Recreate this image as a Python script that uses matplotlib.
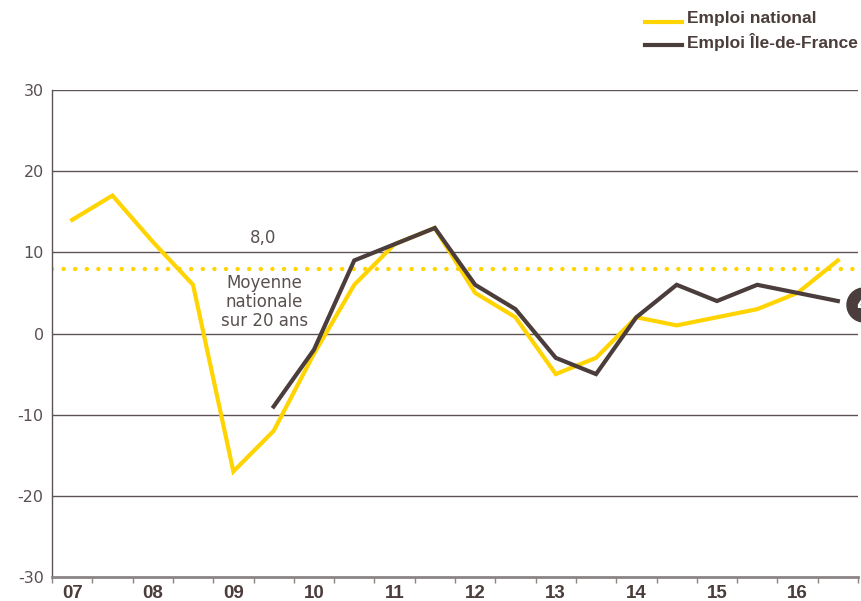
import matplotlib.pyplot as plt
from matplotlib.lines import Line2D
from matplotlib.patches import Ellipse

# values, one point per half-year, 2007 S1 .. 2016 S2
emploi_national = [14, 17, 11.3, 6, -17, -12, -2.5, 6, 11, 13,
                   5, 2, -5, -3, 2, 1, 2, 3, 5, 9]
emploi_idf = [None, None, None, None, None, -9, -2, 9, 11, 13,
              6, 3, -3, -5, 2, 6, 4, 6, 5, 4]
year_labels = ['07', '08', '09', '10', '11', '12', '13', '14', '15', '16']
moyenne = 8.0

yellow = '#FFD400'
dark = '#4A3D3B'
grey_txt = '#5A5050'

W, H = 861, 601
fig = plt.figure(figsize=(W / 100, H / 100), dpi=100)
ax = fig.add_axes([52 / W, 1 - 577 / H, (858 - 52) / W, (577 - 90) / H])

x = [i + 0.5 for i in range(len(emploi_national))]
xi = [x[i] for i, v in enumerate(emploi_idf) if v is not None]
yi = [v for v in emploi_idf if v is not None]

for yv in range(-20, 31, 10):
    ax.axhline(yv, color='#5E5353', lw=1, zorder=1)
ax.axhline(moyenne, color=yellow, lw=3.2, linestyle=(0, (0.01, 2.6)),
           dash_capstyle='round', zorder=2)

ax.plot(x, emploi_national, color=yellow, lw=3, solid_joinstyle='miter', zorder=3)
ax.plot(xi, yi, color=dark, lw=3, solid_joinstyle='miter', zorder=4)

ax.set_xlim(0, 20)
ax.set_ylim(-30, 30)
ax.set_yticks(range(-30, 31, 10))
ax.set_yticklabels([str(v) for v in range(-30, 31, 10)], fontsize=11.5, color=grey_txt)
ax.tick_params(axis='y', length=0, pad=6)

ax.set_xticks(range(0, 21))
ax.set_xticklabels([])
ax.set_xticks([0.5 + 2 * k for k in range(len(year_labels))], minor=True)
ax.set_xticklabels(year_labels, minor=True, fontsize=13.5, fontweight='bold',
                   color=dark, family='Liberation Sans')
ax.tick_params(axis='x', which='major', length=4, width=1, color='#8C8484')
ax.tick_params(axis='x', which='minor', length=0, pad=6)

for s in ['top', 'right']:
    ax.spines[s].set_visible(False)
ax.spines['left'].set_color('#5E5353')
ax.spines['left'].set_linewidth(1)
ax.spines['bottom'].set_color('#8C8484')
ax.spines['bottom'].set_linewidth(2)

ax.text(5.23, 10.6, '8,0', ha='center', va='bottom', fontsize=12, color=grey_txt)
ax.text(5.27, 7.3, 'Moyenne\nnationale\nsur 20 ans', ha='center', va='top',
        fontsize=12, color=grey_txt, linespacing=1.05)

# legend
fig.add_artist(Line2D([645 / W, 682 / W], [1 - 22 / H, 1 - 22 / H], color=yellow, lw=3))
fig.add_artist(Line2D([645 / W, 682 / W], [1 - 45 / H, 1 - 45 / H], color=dark, lw=3))
fig.text(687 / W, 1 - 18 / H, 'Emploi national', va='center', ha='left', fontsize=12.5,
         fontweight='bold', color=dark, family='Liberation Sans')
fig.text(687 / W, 1 - 42 / H, 'Emploi Île-de-France', va='center', ha='left', fontsize=12.5,
         fontweight='bold', color=dark, family='Liberation Sans')

# badge on the right edge (cut by the page edge, as in the original)
fig.add_artist(Ellipse((864 / W, 1 - 305 / H), 34 / W, 34 / H, color=dark))
fig.text(863 / W, 1 - 305 / H, '4', ha='center', va='center', fontsize=15,
         fontweight='bold', color='white')

fig.savefig('out.png', dpi=100)
